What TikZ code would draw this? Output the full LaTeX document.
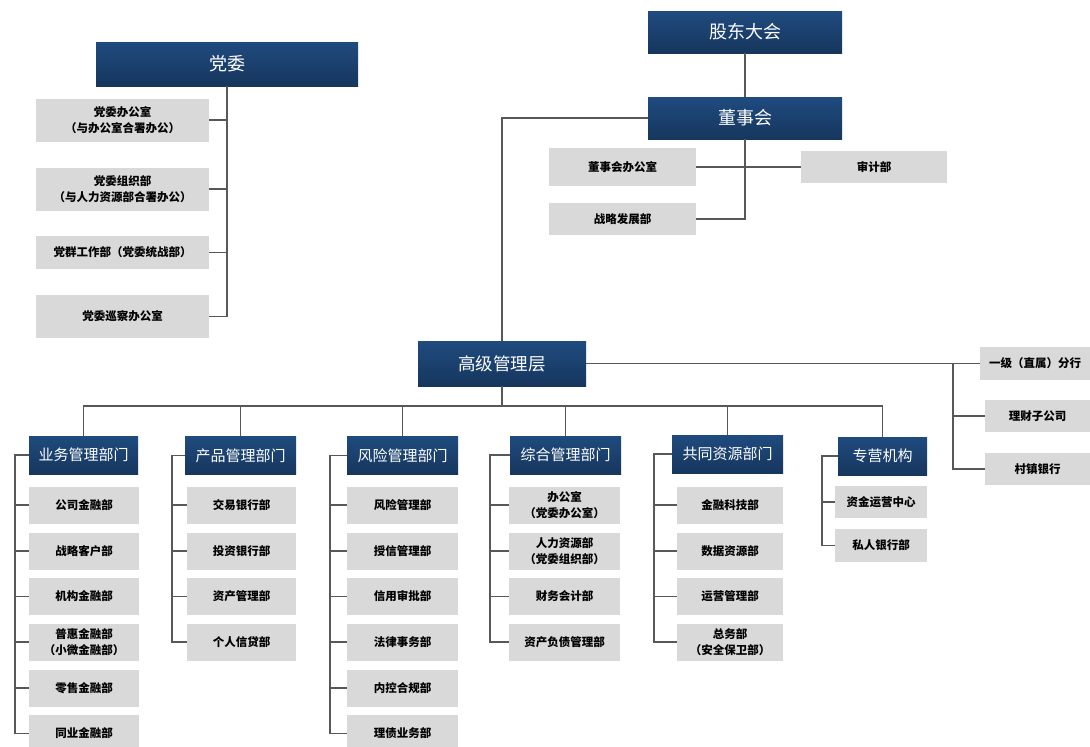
\documentclass[tikz,border=0pt]{standalone}
\usepackage{fontspec}
\setmainfont{Noto Sans CJK SC}
\definecolor{navyT}{RGB}{31,75,127}
\definecolor{navyB}{RGB}{22,54,93}
\definecolor{boxgray}{RGB}{217,217,217}
\definecolor{linegray}{RGB}{88,88,88}
\tikzset{
  navy/.style={draw=none, top color=navyT, bottom color=navyB, text=white, inner sep=0pt, align=center},
  bignavy/.style={navy, font=\fontsize{18}{20}\selectfont},
  catnavy/.style={navy, minimum height=38pt, font=\fontsize{15}{17}\selectfont},
  gbox/.style={fill=boxgray, draw=none, inner sep=0pt, align=center, font=\fontsize{11.5}{15.5}\selectfont\bfseries},
  conn/.style={draw=linegray, line width=1.1pt}
}
\begin{document}
\begin{tikzpicture}[x=1pt,y=-1pt]
\useasboundingbox (0,0) rectangle (1090,747);
\clip (0,0) rectangle (1090,747);
\fill[white] (0,0) rectangle (1090,747);

% ---------- Party committee ----------
\node[bignavy, minimum width=262pt, minimum height=44pt] (dw) at (227,64) {党委};
\node[gbox, minimum width=173pt, minimum height=43pt] (p1) at (122.5,120) {党委办公室\\（与办公室合署办公）};
\node[gbox, minimum width=173pt, minimum height=43pt] (p2) at (122.5,189) {党委组织部\\（与人力资源部合署办公）};
\node[gbox, minimum width=173pt, minimum height=33pt] (p3) at (122.5,252.5) {党群工作部（党委统战部）};
\node[gbox, minimum width=173pt, minimum height=43pt] (p4) at (122.5,316.5) {党委巡察办公室};
\draw[conn] (dw.south) -- (dw.south |- p4.east) -- (p4.east);
\foreach \k in {p1,p2,p3} \draw[conn] (\k.east) -- (\k.east -| dw.south);

% ---------- Shareholders / board ----------
\node[bignavy, minimum width=194pt, minimum height=42pt] (gd) at (745,32) {股东大会};
\node[bignavy, minimum width=194pt, minimum height=42pt] (dsh) at (745,118) {董事会};
\node[gbox, minimum width=147pt, minimum height=38pt] (b1) at (622.5,167) {董事会办公室};
\node[gbox, minimum width=146pt, minimum height=32pt] (b2) at (874,167) {审计部};
\node[gbox, minimum width=147pt, minimum height=32pt] (b3) at (622.5,219) {战略发展部};
\draw[conn] (gd) -- (dsh);
\draw[conn] (dsh.south) |- (b3.east);
\draw[conn] (b1.east) -- (b2.west);

% ---------- Senior management ----------
\node[navy, font=\fontsize{17.5}{20}\selectfont, minimum width=168pt, minimum height=45pt] (gj) at (502,363.5) {高级管理层};
\draw[conn] (dsh.west) -| (gj.north);

% right branch
\node[gbox, minimum width=110pt, minimum height=33pt] (r1) at (1035,363.5) {一级（直属）分行};
\node[gbox, minimum width=105pt, minimum height=32pt] (r2) at (1037.5,416) {理财子公司};
\node[gbox, minimum width=105pt, minimum height=32pt] (r3) at (1037.5,469) {村镇银行};
\coordinate (rv) at (953,363.5);
\draw[conn] (gj.east) -- (r1.west);
\draw[conn] (rv) |- (r3.west);
\draw[conn] (rv |- r2.west) -- (r2.west);

% ---------- Category headers ----------
\node[catnavy, minimum width=109pt] (c1) at (83.5,455) {业务管理部门};
\node[catnavy, minimum width=111pt] (c2) at (240.5,455.5) {产品管理部门};
\node[catnavy, minimum width=111pt] (c3) at (402.5,455.5) {风险管理部门};
\node[catnavy, minimum width=111pt] (c4) at (565.5,455) {综合管理部门};
\node[catnavy, minimum width=111pt] (c5) at (727.5,454) {共同资源部门};
\node[catnavy, minimum width=89pt] (c6) at (882.5,456) {专营机构};

\coordinate (bus) at (0,406);
\draw[conn] (gj.south) -- (gj.south |- bus);
\draw[conn] (c1.north) -- (c1.north |- bus) -- (c6.north |- bus) -- (c6.north);
\foreach \k in {c2,c3,c4,c5} \draw[conn] (\k.north) -- (\k.north |- bus);

% column 1
\node[gbox, minimum width=110pt, minimum height=37pt] (a1) at (84,505) {公司金融部};
\node[gbox, minimum width=110pt, minimum height=37pt] (a2) at (84,551) {战略客户部};
\node[gbox, minimum width=110pt, minimum height=37pt] (a3) at (84,596.5) {机构金融部};
\node[gbox, minimum width=110pt, minimum height=37pt] (a4) at (84,642) {普惠金融部\\（小微金融部）};
\node[gbox, minimum width=110pt, minimum height=37pt] (a5) at (84,688) {零售金融部};
\node[gbox, minimum width=110pt, minimum height=37pt] (a6) at (84,733.5) {同业金融部};
\coordinate (k1) at (15,455);
\draw[conn] (c1.west) -- (k1) |- (a6.west);
\foreach \k in {a1,a2,a3,a4,a5} \draw[conn] (\k.west) -- (\k.west -| k1);

% column 2
\node[gbox, minimum width=109pt, minimum height=37pt] (e1) at (241.5,505) {交易银行部};
\node[gbox, minimum width=109pt, minimum height=37pt] (e2) at (241.5,551) {投资银行部};
\node[gbox, minimum width=109pt, minimum height=37pt] (e3) at (241.5,596.5) {资产管理部};
\node[gbox, minimum width=109pt, minimum height=37pt] (e4) at (241.5,642) {个人信贷部};
\coordinate (k2) at (172,455.5);
\draw[conn] (c2.west) -- (k2) |- (e4.west);
\foreach \k in {e1,e2,e3} \draw[conn] (\k.west) -- (\k.west -| k2);

% column 3
\node[gbox, minimum width=111pt, minimum height=37pt] (f1) at (402.5,505) {风险管理部};
\node[gbox, minimum width=111pt, minimum height=37pt] (f2) at (402.5,551) {授信管理部};
\node[gbox, minimum width=111pt, minimum height=37pt] (f3) at (402.5,596.5) {信用审批部};
\node[gbox, minimum width=111pt, minimum height=37pt] (f4) at (402.5,642) {法律事务部};
\node[gbox, minimum width=111pt, minimum height=37pt] (f5) at (402.5,688) {内控合规部};
\node[gbox, minimum width=111pt, minimum height=37pt] (f6) at (402.5,733.5) {理债业务部};
\coordinate (k3) at (330,455.5);
\draw[conn] (c3.west) -- (k3) |- (f6.west);
\foreach \k in {f1,f2,f3,f4,f5} \draw[conn] (\k.west) -- (\k.west -| k3);

% column 4
\node[gbox, minimum width=111pt, minimum height=37pt] (g1) at (564.5,505) {办公室\\（党委办公室）};
\node[gbox, minimum width=111pt, minimum height=37pt] (g2) at (564.5,551) {人力资源部\\（党委组织部）};
\node[gbox, minimum width=111pt, minimum height=37pt] (g3) at (564.5,596.5) {财务会计部};
\node[gbox, minimum width=111pt, minimum height=37pt] (g4) at (564.5,642) {资产负债管理部};
\coordinate (k4) at (490,455);
\draw[conn] (c4.west) -- (k4) |- (g4.west);
\foreach \k in {g1,g2,g3} \draw[conn] (\k.west) -- (\k.west -| k4);

% column 5
\node[gbox, minimum width=106pt, minimum height=37pt] (h1) at (730,505) {金融科技部};
\node[gbox, minimum width=106pt, minimum height=37pt] (h2) at (730,551) {数据资源部};
\node[gbox, minimum width=106pt, minimum height=37pt] (h3) at (730,596.5) {运营管理部};
\node[gbox, minimum width=106pt, minimum height=37pt] (h4) at (730,642) {总务部\\（安全保卫部）};
\coordinate (k5) at (654,454);
\draw[conn] (c5.west) -- (k5) |- (h4.west);
\foreach \k in {h1,h2,h3} \draw[conn] (\k.west) -- (\k.west -| k5);

% column 6
\node[gbox, minimum width=92pt, minimum height=32pt] (m1) at (881,502) {资金运营中心};
\node[gbox, minimum width=92pt, minimum height=33pt] (m2) at (881,545.5) {私人银行部};
\coordinate (k6) at (822,456);
\draw[conn] (c6.west) -- (k6) |- (m2.west);
\draw[conn] (m1.west) -- (m1.west -| k6);
\end{tikzpicture}
\end{document}
